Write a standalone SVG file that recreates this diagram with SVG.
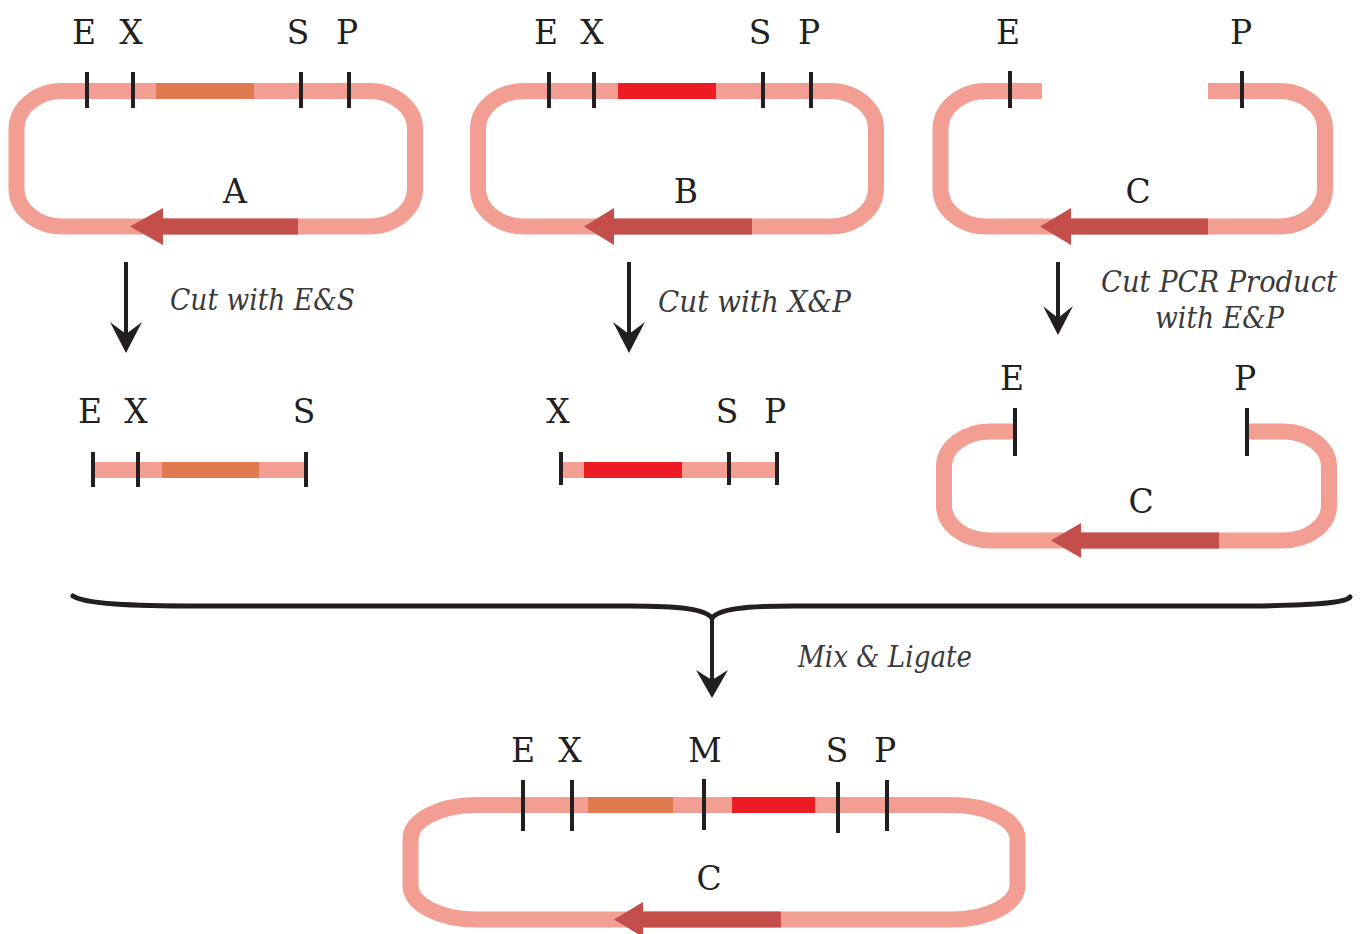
<svg xmlns="http://www.w3.org/2000/svg" width="1363" height="934" viewBox="0 0 1363 934">
<style>
.band{fill:none;stroke:#f29e92;stroke-width:16;stroke-linecap:butt}
.orange{fill:#e07b50}
.red{fill:#ed1c24}
.dark{fill:#c44e4a}
.tick{stroke:#231f20;stroke-width:4}
.lbl{font-family:"DejaVu Serif","Liberation Serif",serif;font-size:33px;fill:#231f20;text-anchor:middle}
.note{font-family:"DejaVu Serif","Liberation Serif",serif;font-style:italic;font-size:29px;fill:#3a3a3a}
.conn{stroke:#231f20;stroke-width:4;fill:none}
.head{fill:#231f20}
</style>
<rect width="1363" height="934" fill="#ffffff"/>

<g id="plasmidA">
<path class="band" d="M62.5,91 H369 A46,38 0 0 1 415,129 V188.5 A46,38 0 0 1 369,226.5 H62.5 A46,38 0 0 1 16.5,188.5 V129 A46,38 0 0 1 62.5,91 Z"/>
<rect class="orange" x="156" y="83" width="98" height="16"/>
<rect class="dark" x="162" y="218.5" width="136" height="16"/>
<polygon class="dark" points="130,226.5 163,208 163,245"/>
<line class="tick" x1="87" y1="72" x2="87" y2="108"/>
<line class="tick" x1="133" y1="72" x2="133" y2="108"/>
<line class="tick" x1="301" y1="72" x2="301" y2="108"/>
<line class="tick" x1="349" y1="72" x2="349" y2="108"/>
<text class="lbl" x="84" y="44">E</text>
<text class="lbl" x="131" y="44">X</text>
<text class="lbl" x="298" y="44">S</text>
<text class="lbl" x="347" y="44">P</text>
<text class="lbl" x="235" y="203">A</text>
</g>

<g id="plasmidB">
<path class="band" d="M524,91 H830 A46,38 0 0 1 876,129 V188.5 A46,38 0 0 1 830,226.5 H524 A46,38 0 0 1 478,188.5 V129 A46,38 0 0 1 524,91 Z"/>
<rect class="red" x="618" y="83" width="98" height="16"/>
<rect class="dark" x="613" y="218.5" width="139" height="16"/>
<polygon class="dark" points="584,226.5 614,208 614,245"/>
<line class="tick" x1="549" y1="72" x2="549" y2="108"/>
<line class="tick" x1="594" y1="72" x2="594" y2="108"/>
<line class="tick" x1="763" y1="72" x2="763" y2="108"/>
<line class="tick" x1="811" y1="72" x2="811" y2="108"/>
<text class="lbl" x="546" y="44">E</text>
<text class="lbl" x="592" y="44">X</text>
<text class="lbl" x="760" y="44">S</text>
<text class="lbl" x="809" y="44">P</text>
<text class="lbl" x="686" y="203">B</text>
</g>

<g id="plasmidC">
<path class="band" d="M1042,91 H986.5 A46,38 0 0 0 940.5,129 V188.5 A46,38 0 0 0 986.5,226.5 H1279 A46,38 0 0 0 1325,188.5 V129 A46,38 0 0 0 1279,91 H1208"/>
<rect class="dark" x="1070" y="218.5" width="138" height="16"/>
<polygon class="dark" points="1040,226.5 1071,208 1071,245"/>
<line class="tick" x1="1010" y1="71" x2="1010" y2="108"/>
<line class="tick" x1="1242" y1="71" x2="1242" y2="108"/>
<text class="lbl" x="1008" y="44">E</text>
<text class="lbl" x="1241" y="44">P</text>
<text class="lbl" x="1138" y="203">C</text>
</g>

<g id="fragmentA">
<rect x="93" y="462" width="213" height="16" fill="#f29e92"/>
<rect class="orange" x="162" y="462" width="97" height="16"/>
<line class="tick" x1="93" y1="452" x2="93" y2="487"/>
<line class="tick" x1="138" y1="452" x2="138" y2="487"/>
<line class="tick" x1="306" y1="452" x2="306" y2="487"/>
<text class="lbl" x="90" y="423">E</text>
<text class="lbl" x="136" y="423">X</text>
<text class="lbl" x="304" y="423">S</text>
</g>

<g id="fragmentB">
<rect x="561" y="462" width="216" height="16" fill="#f29e92"/>
<rect class="red" x="584" y="462" width="98" height="16"/>
<line class="tick" x1="561" y1="452" x2="561" y2="485"/>
<line class="tick" x1="729" y1="452" x2="729" y2="485"/>
<line class="tick" x1="777" y1="452" x2="777" y2="485"/>
<text class="lbl" x="558" y="423">X</text>
<text class="lbl" x="727" y="423">S</text>
<text class="lbl" x="775" y="423">P</text>
</g>

<g id="plasmidCcut">
<path class="band" d="M1015,431.5 H990 A46,35 0 0 0 944,466.5 V505.5 A46,35 0 0 0 990,540.5 H1283 A46,35 0 0 0 1329,505.5 V466.5 A46,35 0 0 0 1283,431.5 H1247"/>
<rect class="dark" x="1080" y="532.5" width="139" height="16"/>
<polygon class="dark" points="1051,540.5 1081,523 1081,558"/>
<line class="tick" x1="1015" y1="408" x2="1015" y2="456"/>
<line class="tick" x1="1247" y1="408" x2="1247" y2="456"/>
<text class="lbl" x="1012" y="390">E</text>
<text class="lbl" x="1245" y="390">P</text>
<text class="lbl" x="1141" y="513">C</text>
</g>

<g id="plasmidFinal">
<path class="band" d="M476.5,805 H951.5 A66,34 0 0 1 1017.5,839 V885.5 A66,34 0 0 1 951.5,919.5 H476.5 A66,34 0 0 1 410.5,885.5 V839 A66,34 0 0 1 476.5,805 Z"/>
<rect class="orange" x="588" y="797" width="85" height="16"/>
<rect class="red" x="732" y="797" width="83" height="16"/>
<rect class="dark" x="642" y="911.5" width="139" height="16"/>
<polygon class="dark" points="614,919.5 643,902 643,937"/>
<line class="tick" x1="523" y1="780" x2="523" y2="831"/>
<line class="tick" x1="572" y1="780" x2="572" y2="831"/>
<line class="tick" x1="704" y1="779" x2="704" y2="830"/>
<line class="tick" x1="838" y1="782" x2="838" y2="833"/>
<line class="tick" x1="887" y1="780" x2="887" y2="831"/>
<text class="lbl" x="523" y="762">E</text>
<text class="lbl" x="570" y="762">X</text>
<text class="lbl" x="705" y="762">M</text>
<text class="lbl" x="837" y="762">S</text>
<text class="lbl" x="885" y="762">P</text>
<text class="lbl" x="709" y="890">C</text>
</g>

<g id="connectors">
<line class="conn" x1="126" y1="262" x2="126" y2="338"/>
<polygon class="head" points="126,353 110,322 126,334 142,322"/>
<line class="conn" x1="629" y1="262" x2="629" y2="338"/>
<polygon class="head" points="629,353 613,322 629,334 645,322"/>
<line class="conn" x1="1058" y1="262" x2="1058" y2="320"/>
<polygon class="head" points="1058,335 1043,306 1058,318 1073,306"/>
<path d="M73,596 C85,604 130,606 200,606 H630 C680,606 705,609 712,618 C719,609 744,606 794,606 H1230 C1300,606 1345,604 1350,597" fill="none" stroke="#231f20" stroke-width="5" stroke-linecap="round"/>
<line class="conn" x1="712" y1="617" x2="712" y2="684"/>
<polygon class="head" points="712,698 696,670 712,680 728,670"/>
</g>

<g id="notes">
<text class="note" x="170" y="310" textLength="185" lengthAdjust="spacingAndGlyphs">Cut with E&amp;S</text>
<text class="note" x="658" y="312" textLength="193" lengthAdjust="spacingAndGlyphs">Cut with X&amp;P</text>
<text class="note" x="1101" y="292" textLength="236" lengthAdjust="spacingAndGlyphs">Cut PCR Product</text>
<text class="note" x="1155" y="328" textLength="129" lengthAdjust="spacingAndGlyphs">with E&amp;P</text>
<text class="note" x="798" y="667" textLength="174" lengthAdjust="spacingAndGlyphs">Mix &amp; Ligate</text>
</g>
</svg>
